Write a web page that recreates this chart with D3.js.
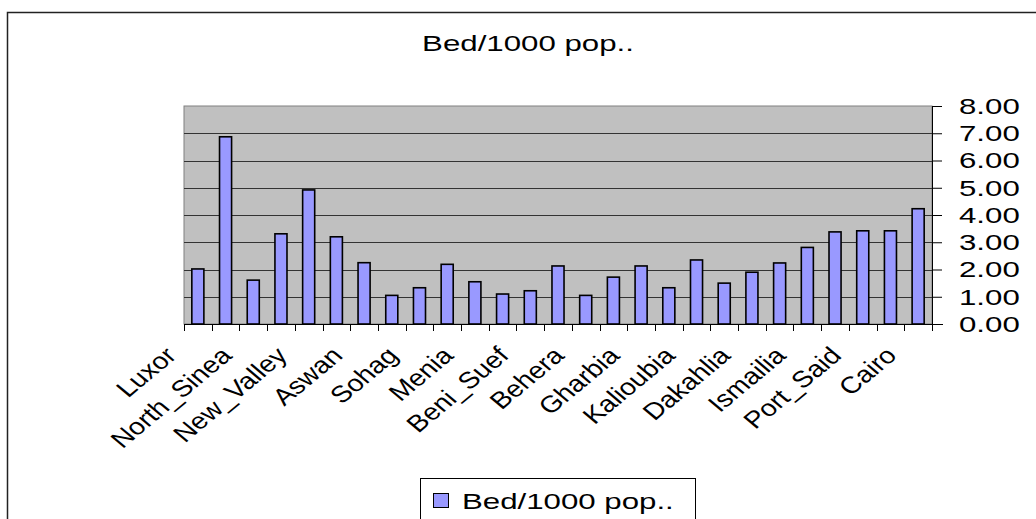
<!DOCTYPE html>
<html>
<head>
<meta charset="utf-8">
<script src="https://cdn.jsdelivr.net/npm/d3@7"></script>
<style>
  html, body { margin: 0; padding: 0; background: #fff; }
  svg { display: block; }
  text { font-family: "Liberation Sans", Arial, sans-serif; fill: #000; }
</style>
</head>
<body>
<div id="chart"></div>
<script>

///
/// Data
///
var title = "Bed/1000 pop..";
var seriesName = "Bed/1000 pop..";

// only every second category label is printed on the axis
var categories = ["Luxor", "", "North_Sinea", "", "New_Valley", "", "Aswan", "",
  "Sohag", "", "Menia", "", "Beni_Suef", "", "Behera", "", "Gharbia", "",
  "Kalioubia", "", "Dakahlia", "", "Ismailia", "", "Port_Said", "", "Cairo"];

var values = [2.02, 6.87, 1.61, 3.31, 4.92, 3.20, 2.25, 1.05, 1.33, 2.19,
  1.55, 1.10, 1.22, 2.13, 1.05, 1.72, 2.13, 1.33, 2.35, 1.50,
  1.90, 2.24, 2.81, 3.38, 3.42, 3.42, 4.23];

var yTicks = [0, 1, 2, 3, 4, 5, 6, 7, 8];


///
/// Layout
///
var width = 1036, height = 519;
var plot = { left: 184, right: 932, top: 106, bottom: 324 };
var sx = 1.42;   // the source picture is stretched sideways

var svg = d3.select("#chart").append("svg")
  .attr("width", width)
  .attr("height", height);

// chart frame
svg.append("rect")
  .attr("x", 7.5).attr("y", 12.5)
  .attr("width", width + 20).attr("height", height + 20)
  .attr("fill", "#fff")
  .attr("stroke", "#222")
  .attr("stroke-width", 1.5);

var x = d3.scaleBand()
  .domain(d3.range(values.length))
  .range([plot.left, plot.right])
  .padding(0);

var y = d3.scaleLinear()
  .domain([0, 8])
  .range([plot.bottom, plot.top]);

var barW = x.step() * 0.435;


///
/// Plot area
///
svg.append("rect")
  .attr("x", plot.left).attr("y", plot.top)
  .attr("width", plot.right - plot.left)
  .attr("height", plot.bottom - plot.top)
  .attr("fill", "#c0c0c0")
  .attr("stroke", "#808080")
  .attr("stroke-width", 1);

svg.append("g")
  .selectAll("line")
  .data(yTicks.filter(d => d > 0 && d < 8))
  .join("line")
  .attr("x1", plot.left).attr("x2", plot.right)
  .attr("y1", d => Math.round(y(d)) + 0.5)
  .attr("y2", d => Math.round(y(d)) + 0.5)
  .attr("stroke", "#333")
  .attr("stroke-width", 1.2);

// bars
svg.append("g")
  .selectAll("rect")
  .data(values)
  .join("rect")
  .attr("x", (d, i) => x(i) + (x.step() - barW) / 2)
  .attr("y", d => y(d))
  .attr("width", barW)
  .attr("height", d => plot.bottom - y(d))
  .attr("fill", "#9999ff")
  .attr("stroke", "#000")
  .attr("stroke-width", 1.6);


///
/// Axes
///
var xAxis = d3.axisBottom(x)
  .tickSizeInner(0).tickSizeOuter(0)
  .tickFormat("");

svg.append("g")
  .attr("transform", "translate(0," + plot.bottom + ")")
  .call(xAxis)
  .call(g => g.select(".domain").attr("stroke", "#000")
    .attr("d", "M" + plot.left + ",0.5H" + (plot.right + 11)));

// category boundary ticks
svg.append("g")
  .selectAll("line")
  .data(d3.range(values.length + 1))
  .join("line")
  .attr("x1", i => Math.round(plot.left + i * x.step()) + 0.5)
  .attr("x2", i => Math.round(plot.left + i * x.step()) + 0.5)
  .attr("y1", plot.bottom)
  .attr("y2", plot.bottom + 7)
  .attr("stroke", "#000");

var yAxis = d3.axisRight(y)
  .tickValues(yTicks)
  .tickSize(10)
  .tickFormat(d3.format(".2f"));

var yg = svg.append("g")
  .attr("transform", "translate(" + plot.right + ",0)")
  .call(yAxis);
yg.select(".domain").attr("d", "M0.5," + plot.top + "V" + (plot.bottom + 7));
yg.selectAll(".tick line").attr("stroke", "#000");
yg.selectAll(".tick text")
  .attr("x", 0).attr("dy", null)
  .attr("dominant-baseline", "central")
  .style("font-size", "22px")
  .style("font-family", "'Liberation Sans', Arial, sans-serif")
  .attr("transform", "translate(27,0) scale(" + sx + ",1)");

// category labels, rotated
svg.append("g")
  .selectAll("text")
  .data(categories)
  .join("text")
  .filter(d => d !== "")
  .attr("transform", (d, i) => {
    var cx = x(categories.indexOf(d)) + x.step() / 2;
    return "translate(" + (cx - 20) + "," + 357 + ") scale(1.2,1) rotate(-45)";
  })
  .attr("text-anchor", "end")
  .style("font-size", "23.5px")
  .text(d => d);


///
/// Title and legend
///
svg.append("text")
  .attr("transform", "translate(528,51) scale(" + sx + ",1)")
  .attr("text-anchor", "middle")
  .style("font-size", "22px")
  .text(title);

var legend = svg.append("g");
legend.append("rect")
  .attr("x", 420.5).attr("y", 478.5)
  .attr("width", 275).attr("height", 60)
  .attr("fill", "#fff")
  .attr("stroke", "#000");
legend.append("rect")
  .attr("x", 433.5).attr("y", 493.5)
  .attr("width", 15).attr("height", 14)
  .attr("fill", "#9999ff")
  .attr("stroke", "#000");
legend.append("text")
  .attr("transform", "translate(462,509) scale(" + sx + ",1)")
  .style("font-size", "22px")
  .text(seriesName);

</script>
</body>
</html>
